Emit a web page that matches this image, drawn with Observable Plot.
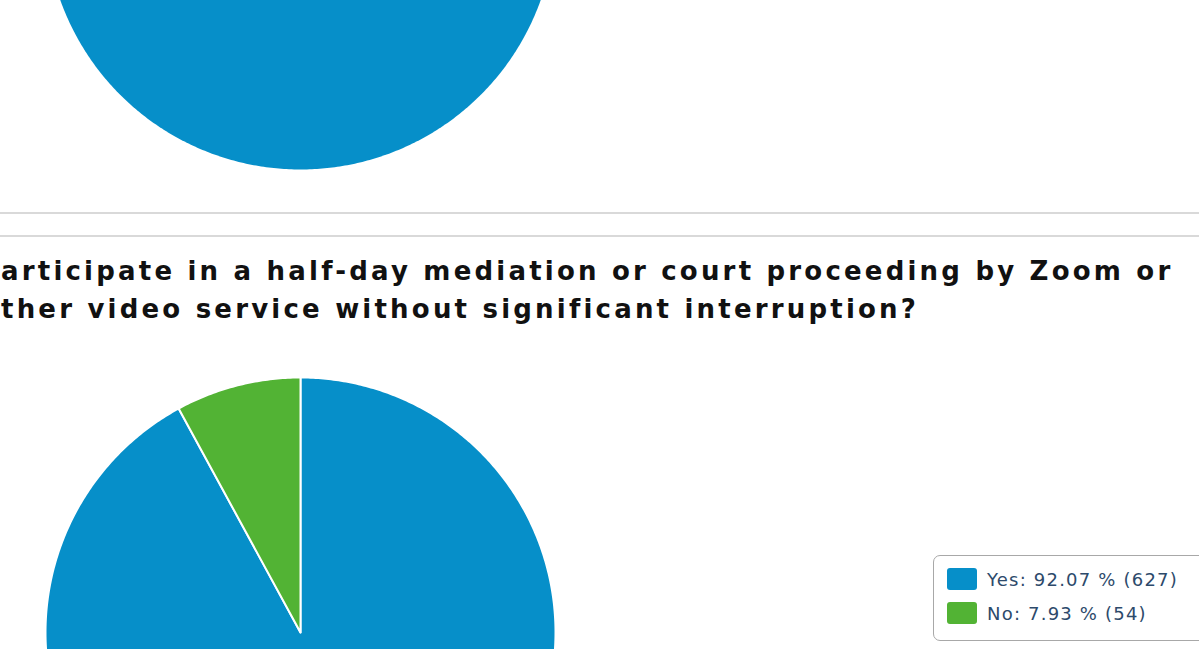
<!DOCTYPE html>
<html>
<head>
<meta charset="utf-8">
<script src="https://cdn.jsdelivr.net/npm/d3@7"></script>
<script src="https://cdn.jsdelivr.net/npm/@observablehq/plot@0.6"></script>
<style>
  html, body { margin: 0; padding: 0; background: #fff; }
  #page { position: relative; width: 1199px; height: 649px; overflow: hidden; background: #fff; font-family: "DejaVu Sans", Verdana, sans-serif; }
  .sep { position: absolute; left: 0; width: 1199px; height: 0; border-top: 2px solid #d9d9d9; }
  #title { position: absolute; left: 1px; top: 252px; width: 1198px; font-weight: bold; font-size: 26px; line-height: 38px; letter-spacing: 3.2px; color: #111; white-space: nowrap; }
  .pie { position: absolute; left: 0; }
  #legend { position: absolute; left: 933px; top: 555px; width: 300px; height: 84px; border: 1.5px solid #a8a8a8; border-radius: 7px; background: #fff; }
  .item { position: absolute; left: 13px; height: 22px; display: flex; align-items: center; font-family: "DejaVu Sans", Verdana, sans-serif; font-size: 18px; letter-spacing: 1.2px; color: #2d4a6b; white-space: nowrap; }
  .sw { width: 30px; height: 22px; border-radius: 3px; margin-right: 10px; }
</style>
</head>
<body>
<div id="page">
  <div class="sep" style="top:212px"></div>
  <div class="sep" style="top:235px"></div>
  <div id="title">articipate in a half-day mediation or court proceeding by Zoom or<br>ther video service without significant interruption?</div>
  <div id="legend"></div>
</div>
<script>
// ---- data ----
const topCategories = ["Yes"];
const topValues = [100];

const categories = ["Yes", "No"];
const counts = [627, 54];
const percents = [92.07, 7.93];
const colors = ["#068fc9", "#52b334"];

// ---- helpers ----
const R = 255;
function slicePoints(cats, vals) {
  const pie = d3.pie().sort(null).value(d => d.value);
  const arcs = pie(cats.map((c, i) => ({label: c, value: vals[i]})));
  const pts = [];
  for (const a of arcs) {
    const full = a.endAngle - a.startAngle >= 2 * Math.PI - 1e-9;
    const n = Math.max(2, Math.ceil((a.endAngle - a.startAngle) / 0.01));
    if (!full) pts.push({label: a.data.label, x: 0, y: 0});
    for (let k = 0; k <= n; k++) {
      const t = a.startAngle + (a.endAngle - a.startAngle) * k / n;
      pts.push({label: a.data.label, x: R * Math.sin(t), y: R * Math.cos(t)});
    }
    if (!full) pts.push({label: a.data.label, x: 0, y: 0});
  }
  return pts;
}

function pieChart(cats, vals, withSeams) {
  return Plot.plot({
    width: 600, height: 600,
    margin: 0,
    x: {domain: [-300, 300], axis: null},
    y: {domain: [-300, 300], axis: null},
    color: {domain: categories, range: colors},
    marks: [
      Plot.line(slicePoints(cats, vals), {
        x: "x", y: "y", z: "label", fill: "label",
        stroke: withSeams ? "white" : "none", strokeWidth: 2, strokeLinejoin: "round", curve: "linear"
      })
    ]
  });
}

const page = document.getElementById("page");

const topPie = pieChart(topCategories, topValues, false);
topPie.classList.add("pie");
topPie.style.top = "-386px";
page.insertBefore(topPie, page.firstChild);

const bottomPie = pieChart(categories, counts, true);
bottomPie.classList.add("pie");
bottomPie.style.top = "332px";
page.insertBefore(bottomPie, document.getElementById("legend"));

// legend
const legend = document.getElementById("legend");
const labels = categories.map((c, i) => `${c}: ${percents[i].toFixed(2)} % (${counts[i]})`);
categories.forEach((c, i) => {
  const it = document.createElement("div");
  it.className = "item";
  it.style.top = (12 + i * 34) + "px";
  const sw = document.createElement("div");
  sw.className = "sw";
  sw.style.background = colors[i];
  const tx = document.createElement("span");
  tx.textContent = labels[i];
  it.appendChild(sw); it.appendChild(tx);
  legend.appendChild(it);
});
</script>
</body>
</html>
